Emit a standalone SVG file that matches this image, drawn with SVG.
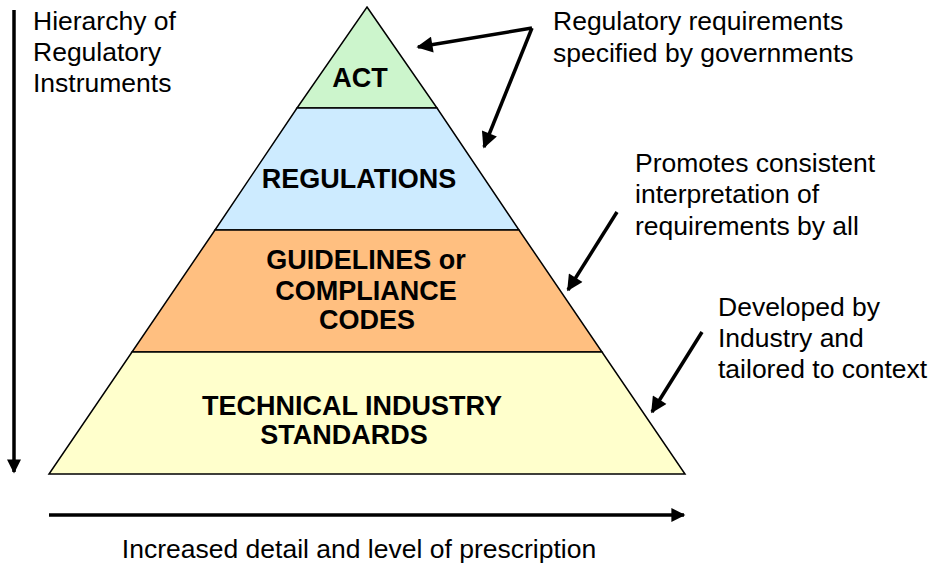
<svg xmlns="http://www.w3.org/2000/svg" width="932" height="566" viewBox="0 0 932 566">
  <style>
    .tier { stroke: #000; stroke-width: 1.5; stroke-linejoin: miter; }
    .label { font-family: "Liberation Sans", Arial, sans-serif; font-weight: bold; font-size: 27px; fill: #000; text-anchor: middle; }
    .note { font-family: "Liberation Sans", Arial, sans-serif; font-size: 26.5px; fill: #000; }
    .arrow { stroke: #000; stroke-width: 3.5; fill: none; marker-end: url(#head); }
    .axis { stroke: #000; stroke-width: 3.5; fill: none; marker-end: url(#axis-head); }
  </style>
  <defs>
    <marker id="head" viewBox="0 0 10 10" refX="9" refY="5" markerWidth="5" markerHeight="4.6" orient="auto" markerUnits="strokeWidth">
      <path d="M0,0 L10,5 L0,10 Z" fill="#000"/>
    </marker>
    <marker id="axis-head" viewBox="0 0 10 10" refX="9" refY="5" markerWidth="4.4" markerHeight="4" orient="auto" markerUnits="strokeWidth">
      <path d="M0,0 L10,5 L0,10 Z" fill="#000"/>
    </marker>
  </defs>
  <rect width="932" height="566" fill="#fff"/>

  <!-- Pyramid tiers -->
  <g id="act">
    <polygon class="tier" points="367,7 437,108 297,108" fill="#ccf5cc"/>
    <text class="label" x="360" y="87">ACT</text>
  </g>
  <g id="regulations">
    <polygon class="tier" points="297,108 437,108 519,230 215,230" fill="#cdebff"/>
    <text class="label" x="359" y="188">REGULATIONS</text>
  </g>
  <g id="guidelines">
    <polygon class="tier" points="215,230 519,230 602,352 132,352" fill="#ffbf80"/>
    <text class="label" x="366" y="269">GUIDELINES or</text>
    <text class="label" x="366" y="300">COMPLIANCE</text>
    <text class="label" x="367" y="329">CODES</text>
  </g>
  <g id="standards">
    <polygon class="tier" points="132,352 602,352 685,474 49,474" fill="#ffffcc"/>
    <text class="label" x="352" y="415">TECHNICAL INDUSTRY</text>
    <text class="label" x="344" y="444">STANDARDS</text>
  </g>

  <!-- Side and bottom captions -->
  <g id="hierarchy-caption">
    <text class="note" x="33" y="30">Hierarchy of</text>
    <text class="note" x="33" y="61">Regulatory</text>
    <text class="note" x="33" y="92">Instruments</text>
  </g>
  <g id="gov-note">
    <text class="note" x="553" y="30">Regulatory requirements</text>
    <text class="note" x="553" y="62">specified by governments</text>
  </g>
  <g id="consistency-note">
    <text class="note" x="635" y="172">Promotes consistent</text>
    <text class="note" x="635" y="203">interpretation of</text>
    <text class="note" x="635" y="235">requirements by all</text>
  </g>
  <g id="industry-note">
    <text class="note" x="718" y="316">Developed by</text>
    <text class="note" x="718" y="347">Industry and</text>
    <text class="note" x="718" y="378">tailored to context</text>
  </g>
  <g id="prescription-caption">
    <text class="note" x="359" y="558" text-anchor="middle">Increased detail and level of prescription</text>
  </g>

  <!-- Connectors -->
  <g id="connectors">
    <line class="axis" x1="14" y1="10" x2="14" y2="472"/>
    <line class="axis" x1="49" y1="515" x2="684" y2="515"/>
    <path class="arrow" d="M532,28 L418,47"/>
    <path class="arrow" d="M532,28 L484,147"/>
    <path class="arrow" d="M617,212 L568,290"/>
    <path class="arrow" d="M702,332 L652,412"/>
  </g>
</svg>
